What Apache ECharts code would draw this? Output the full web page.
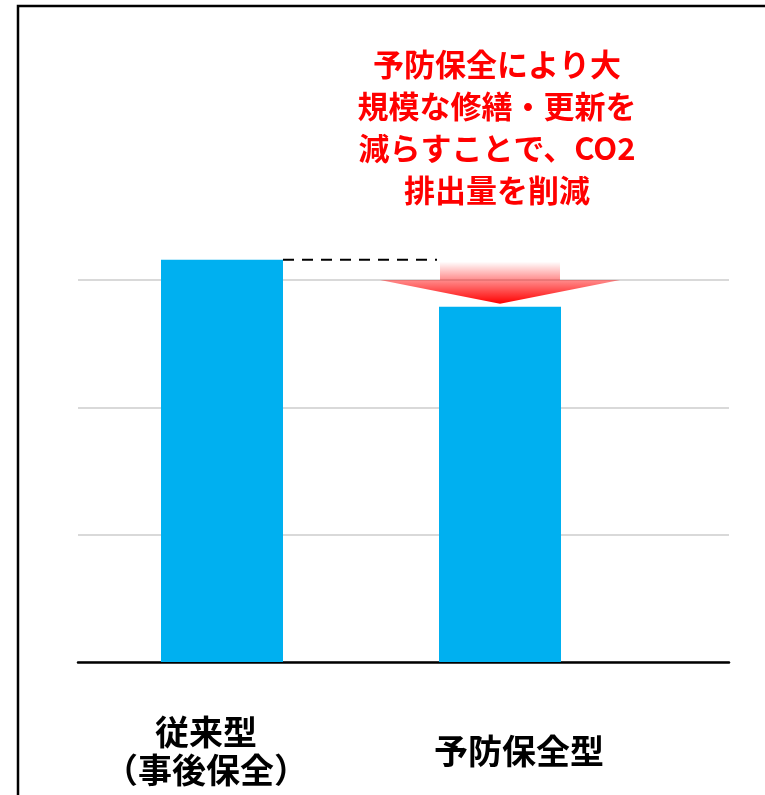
<!DOCTYPE html>
<html>
<head>
<meta charset="utf-8">
<script src="https://cdn.jsdelivr.net/npm/echarts@6/dist/echarts.min.js"></script>
<style>
html,body{margin:0;padding:0;background:#fff;}
#c{width:765px;height:795px;}
</style>
</head>
<body>
<div id="c"></div>
<script>
// ---- data ----
const categories = ['従来型\n（事後保全）', '予防保全型'];
const co2Values = [3.16, 2.79];          // relative CO2 emissions (arbitrary units)
const yTicks = [0, 1, 2, 3];
const annotationText = '予防保全により大\n規模な修繕・更新を\n減らすことで、CO2\n排出量を削減';

const yMin = yTicks[0], yMax = yTicks[yTicks.length - 1], yStep = yTicks[1] - yTicks[0];
const FONT = '"Noto Sans CJK JP", "Noto Sans", sans-serif';
const BAR_W = 122;
const labelBase = {color: '#000', fontSize: 34, fontWeight: 'bold', lineHeight: 38, fontFamily: FONT};

const chart = echarts.init(document.getElementById('c'), null, {renderer: 'canvas'});

const option = {
  backgroundColor: '#ffffff',
  animation: false,
  grid: [
    {left: 83, right: 126, top: 280, bottom: 133},   // bars
    {left: 78, right: 36, top: 280, bottom: 133}     // gridlines + baseline
  ],
  xAxis: [
    {
      type: 'category', gridIndex: 0, data: categories,
      axisLine: {show: false}, axisTick: {show: false},
      axisLabel: {
        interval: 0, margin: 89, verticalAlign: 'middle',
        color: '#000', fontSize: 34, fontWeight: 'bold', lineHeight: 38, fontFamily: FONT,
        formatter: function (v, i) {
          const key = i === 0 ? 'a' : 'b';
          return v.split('\n').map(function (s) { return '{' + key + '|' + s + '}'; }).join('\n');
        },
        rich: {
          a: Object.assign({padding: [0, 32, 0, 0]}, labelBase),
          b: Object.assign({padding: [0, 0, 0, 38]}, labelBase)
        }
      }
    },
    {
      type: 'value', gridIndex: 1, min: 0, max: 1,
      axisLine: {show: true, onZero: false, lineStyle: {color: '#000', width: 2.5}},
      axisTick: {show: false}, axisLabel: {show: false}, splitLine: {show: false}
    }
  ],
  yAxis: [
    {
      type: 'value', gridIndex: 0, min: yMin, max: yMax, interval: yStep,
      axisLine: {show: false}, axisTick: {show: false}, axisLabel: {show: false}, splitLine: {show: false}
    },
    {
      type: 'value', gridIndex: 1, min: yMin, max: yMax, interval: yStep,
      axisLine: {show: false}, axisTick: {show: false}, axisLabel: {show: false},
      splitLine: {show: true, lineStyle: {color: '#d9d9d9', width: 2}}
    }
  ],
  series: [
    {
      type: 'bar', xAxisIndex: 0, yAxisIndex: 0,
      data: co2Values, barWidth: BAR_W, clip: false, z: 3,
      itemStyle: {color: '#00b0f0'}
    },
    {
      type: 'custom', xAxisIndex: 0, yAxisIndex: 0, clip: false, z: 4,
      data: [[0, co2Values[0], 1, co2Values[1]]],
      renderItem: function (params, api) {
        const p0 = api.coord([api.value(0), api.value(1)]);
        const p1 = api.coord([api.value(2), api.value(3)]);
        const base = api.coord([api.value(2), yMax]);
        const half = BAR_W / 2;
        const shaftHalf = half - 1;
        const headHalf = 120;
        return {
          type: 'group',
          children: [
            {
              type: 'line',
              shape: {x1: p0[0] + half, y1: p0[1], x2: p1[0] - half - 2, y2: p0[1]},
              style: {stroke: '#000', lineWidth: 2, lineDash: [11, 8]}
            },
            {
              type: 'rect',
              shape: {x: p1[0] - shaftHalf, y: p0[1] + 2, width: shaftHalf * 2, height: base[1] - p0[1] - 2},
              style: {
                fill: new echarts.graphic.LinearGradient(0, 0, 0, 1, [
                  {offset: 0, color: 'rgba(255,0,0,0)'},
                  {offset: 1, color: 'rgba(255,0,0,0.45)'}
                ])
              }
            },
            {
              type: 'polygon',
              shape: {points: [[p1[0] - headHalf, base[1]], [p1[0] + headHalf, base[1]], [p1[0], p1[1] - 3]]},
              style: {
                fill: new echarts.graphic.LinearGradient(0, 0, 0, 1, [
                  {offset: 0, color: 'rgba(255,0,0,0.45)'},
                  {offset: 1, color: 'rgba(255,0,0,1)'}
                ])
              }
            }
          ]
        };
      }
    }
  ],
  graphic: [
    {
      type: 'polyline', z: 10,
      shape: {points: [[18, 795], [18, 6], [765, 6]]},
      style: {stroke: '#000', lineWidth: 2.5, fill: null}
    },
    {
      type: 'text', z: 10, x: 497, y: 43,
      style: {
        text: annotationText, align: 'center', verticalAlign: 'top',
        fill: '#ff0000', font: 'bold 31px ' + FONT, lineHeight: 42
      }
    }
  ]
};
chart.setOption(option);
</script>
</body>
</html>
